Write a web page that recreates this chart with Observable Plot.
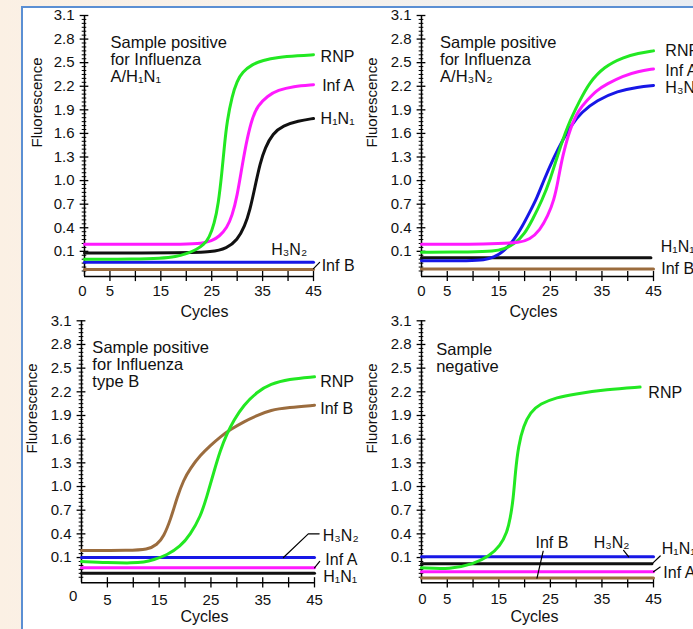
<!DOCTYPE html>
<html><head><meta charset="utf-8">
<script src="https://cdn.jsdelivr.net/npm/d3@7"></script>
<script src="https://cdn.jsdelivr.net/npm/@observablehq/plot@0.6"></script>
<style>
html,body{margin:0;padding:0;background:#fff;}
#root{position:relative;width:693px;height:629px;overflow:hidden;background:linear-gradient(to right,#fbf0e4 0%,#f7f2ec 45%,#e9edf2 100%);font-family:"Liberation Sans",Arial,sans-serif;}
#frame{position:absolute;left:21px;top:6px;width:720px;height:660px;background:#fff;border-left:2px solid #5b8fd3;border-top:2px solid #5b8fd3;}
</style></head><body><div id="root"><div id="frame"></div></div>
<script>
// ---------- axis values ----------
const xDomain = [0, 45];
const yDomain = [-0.22, 3.1];
const yTicks = [0.1, 0.4, 0.7, 1.0, 1.3, 1.6, 1.9, 2.2, 2.5, 2.8, 3.1];
const xTickLabels = [5, 15, 25, 35, 45];
const xTickMarks = [5, 10, 15, 20, 25, 30, 35, 40, 45];

// ---------- Panel 1: Influenza A/H1N1 ----------
const p1_RNP  = [[0,0.0],[10,0.0],[15,0.01],[18,0.03],[20,0.07],[22,0.12],[23.5,0.19],[24.5,0.27],[25.5,0.45],[26.3,0.7],[27,1.1],[27.5,1.45],[28,1.75],[29,2.08],[30,2.27],[31,2.38],[33,2.48],[35,2.53],[38,2.57],[42,2.59],[45,2.6]];
const p1_InfA = [[0,0.19],[10,0.19],[20,0.19],[23,0.2],[25,0.23],[26.5,0.29],[28,0.4],[29,0.55],[30,0.8],[31,1.2],[32,1.55],[33,1.8],[34,1.95],[36,2.08],[38,2.15],[41,2.2],[45,2.22]];
const p1_H1N1 = [[0,0.08],[20,0.08],[25,0.09],[28,0.14],[30,0.24],[31.5,0.42],[32.5,0.62],[33.5,0.92],[34.5,1.22],[35.5,1.42],[37,1.6],[39,1.7],[42,1.76],[45,1.79]];
const p1_H3N2 = [[0,-0.04],[45,-0.04]];
const p1_InfB = [[0,-0.13],[45,-0.13]];

// ---------- Panel 2: Influenza A/H3N2 ----------
const p2_RNP  = [[0,0.09],[10,0.09],[14,0.1],[16,0.13],[18,0.19],[20,0.32],[21.5,0.5],[23.4,0.75],[25,1.02],[26.3,1.3],[28.3,1.7],[30.8,2.03],[32.5,2.24],[35.4,2.45],[39.2,2.57],[42,2.62],[45,2.65]];
const p2_InfA = [[0,0.19],[10,0.19],[15,0.2],[19,0.21],[21,0.25],[23,0.37],[24.5,0.55],[25.7,0.75],[26.5,1.0],[27.3,1.3],[28.9,1.68],[30.5,1.9],[32.1,2.02],[34,2.15],[36,2.23],[39,2.33],[42,2.39],[45,2.42]];
const p2_H3N2 = [[0,-0.02],[10,-0.02],[12,-0.01],[14,0.02],[16,0.1],[18,0.25],[19.5,0.41],[21,0.6],[22.4,0.78],[23.7,1.0],[25.7,1.3],[27.5,1.53],[29,1.7],[31,1.87],[34,2.02],[38,2.14],[42,2.19],[45,2.21]];
const p2_H1N1 = [[0,0.02],[44.5,0.02]];
const p2_InfB = [[0,-0.125],[45,-0.125]];

// ---------- Panel 3: Influenza type B ----------
const p3_RNP  = [[0,0.05],[5,0.035],[10,0.03],[12,0.04],[13.9,0.07],[16.5,0.13],[19.1,0.24],[21,0.39],[23,0.62],[24.2,0.87],[25.5,1.17],[26.8,1.46],[28.1,1.67],[29.4,1.84],[31.3,2.03],[33.9,2.2],[36.5,2.3],[40,2.36],[45,2.39]];
const p3_InfB = [[0,0.19],[9.5,0.19],[12.7,0.2],[14.6,0.26],[15.9,0.37],[17.2,0.58],[18.5,0.87],[19.7,1.08],[21,1.23],[23,1.4],[24.9,1.52],[26.8,1.63],[28.7,1.72],[31.3,1.82],[33.9,1.9],[36.5,1.97],[40,2.0],[45,2.03]];
const p3_H3N2 = [[0,0.1],[45,0.1]];
const p3_InfA = [[0,-0.03],[45,-0.03]];
const p3_H1N1 = [[0,-0.1],[45,-0.1]];

// ---------- Panel 4: negative ----------
const p4_RNP  = [[0,-0.03],[5.6,-0.05],[10.1,0.02],[13,0.11],[15.3,0.25],[16.6,0.42],[17.2,0.59],[17.8,0.84],[18.2,1.18],[18.8,1.52],[19.8,1.77],[21.1,1.94],[23,2.05],[26.3,2.13],[29.5,2.17],[36,2.23],[42.4,2.26]];
const p4_H3N2 = [[0,0.11],[45,0.11]];
const p4_H1N1 = [[0,0.02],[44.7,0.02]];
const p4_InfA = [[0,-0.08],[45,-0.08]];
const p4_InfB = [[0,-0.16],[45,-0.16]];

// ---------- annotation text ----------
const titles = ["Sample positive\nfor Influenza\nA/H\u2081N\u2081", "Sample positive\nfor Influenza\nA/H\u2083N\u2082", "Sample positive\nfor Influenza\ntype B", "Sample\nnegative"];
const p1_labels = [{t:"RNP",x:46.4,y:2.58},{t:"Inf A",x:46.7,y:2.21},{t:"H\u2081N\u2081",x:46.4,y:1.78},{t:"H\u2083N\u2082",x:36.7,y:0.12},{t:"Inf B",x:46.6,y:-0.08}];
const p2_labels = [{t:"RNP",x:47.3,y:2.65},{t:"Inf A",x:47.3,y:2.4},{t:"H\u2083N\u2082",x:47.3,y:2.18},{t:"H\u2081N\u2081",x:46.4,y:0.16},{t:"Inf B",x:46.5,y:-0.12}];
const p3_labels = [{t:"RNP",x:46.1,y:2.33},{t:"Inf B",x:46.1,y:1.99},{t:"H\u2083N\u2082",x:46.6,y:0.37},{t:"Inf A",x:47.1,y:0.07},{t:"H\u2081N\u2081",x:46.7,y:-0.15}];
const p4_labels = [{t:"RNP",x:44.0,y:2.19},{t:"Inf B",x:22.1,y:0.29},{t:"H\u2083N\u2082",x:33.4,y:0.29},{t:"H\u2081N\u2081",x:46.6,y:0.21},{t:"Inf A",x:46.9,y:-0.09}];
const p1_leaders = [[[45,-0.12],[46.2,-0.04]]];
const p2_leaders = [];
const p3_leaders = [[[39,0.1],[43.8,0.4],[45.9,0.4]], [[45,-0.03],[46,0.05]]];
const p4_leaders = [[[22.4,-0.16],[23.6,0.18]], [[39.2,0.19],[40.2,0.11]], [[44.7,0.02],[46.3,0.12]], [[45,-0.08],[46.3,-0.02]]];

// ---------- styles ----------
const FONT = '"Liberation Sans", Arial, Helvetica, sans-serif';
const COLORS = {RNP:"#22e822", InfA:"#ff1aff", H1N1:"#111111", H3N2:"#1717e6", InfB:"#9b6c3e"};

const panels = [
  {left:0, top:0, width:362, height:330, mt:15, mb:54, ml:84, mr:49,
   title:titles[0], tx:5.1, ty:2.84, labels:p1_labels, leaders:p1_leaders,
   series:[["InfB",p1_InfB],["H3N2",p1_H3N2],["H1N1",p1_H1N1],["InfA",p1_InfA],["RNP",p1_RNP]],
   xPad:9, zeroDx:-2, zeroDy:9, cDx:5.5, cDy:40, fDx:-47.5, fDy:1.5},
  {left:340, top:0, width:360, height:330, mt:15, mb:54, ml:81, mr:47,
   title:titles[1], tx:3.6, ty:2.84, labels:p2_labels, leaders:p2_leaders,
   series:[["InfB",p2_InfB],["H1N1",p2_H1N1],["H3N2",p2_H3N2],["RNP",p2_RNP],["InfA",p2_InfA]],
   xPad:9, zeroDx:0, zeroDy:9, cDx:-4, cDy:40, fDx:-49.5, fDy:1.5},
  {left:0, top:305, width:362, height:324, mt:15.3, mb:46.7, ml:81, mr:48,
   title:titles[2], tx:2.1, ty:2.85, labels:p3_labels, leaders:p3_leaders,
   series:[["H1N1",p3_H1N1],["InfA",p3_InfA],["H3N2",p3_H3N2],["InfB",p3_InfB],["RNP",p3_RNP]],
   xPad:12, zeroDx:-8.3, zeroDy:7.7, cDx:6.5, cDy:39, fDx:-49.3, fDy:1.7},
  {left:340, top:305, width:360, height:324, mt:15.3, mb:46.7, ml:81, mr:47,
   title:titles[3], tx:2.85, ty:2.82, labels:p4_labels, leaders:p4_leaders,
   series:[["InfB",p4_InfB],["InfA",p4_InfA],["H1N1",p4_H1N1],["H3N2",p4_H3N2],["RNP",p4_RNP]],
   xPad:11, zeroDx:1, zeroDy:11, cDx:-3, cDy:39, fDx:-49.5, fDy:1.7}
];

const majorSet = new Set(yTicks.map(v => v.toFixed(2)));
const yMinor = d3.range(-0.15, 3.1, 0.05).filter(v => !majorSet.has(v.toFixed(2)));

const root = document.getElementById("root");
for (const p of panels) {
  const marks = [
    Plot.ruleX([xDomain[0]], {y1: yDomain[0], y2: yDomain[1], stroke: "#000", strokeWidth: 1.5}),
    Plot.ruleY([yDomain[0]], {x1: xDomain[0], x2: xDomain[1], stroke: "#000", strokeWidth: 1.5}),
    Plot.ruleY(yTicks, {x1: -0.85, x2: 0.85, stroke: "#000", strokeWidth: 1.3}),
    Plot.ruleY(yMinor, {x1: -0.45, x2: 0.45, stroke: "#000", strokeWidth: 1}),
    Plot.ruleX(xTickMarks, {y1: yDomain[0] - 0.065, y2: yDomain[0] + 0.065, stroke: "#000", strokeWidth: 1.3}),
    Plot.text(["0"], {x: xDomain[0], frameAnchor: "bottom", lineAnchor: "top", dy: p.zeroDy, dx: p.zeroDx, text: d => d, fontSize: 15, fill: "#111"}),
    ...p.series.map(([k, pts]) => Plot.line(pts, {x: d => d[0], y: d => d[1], stroke: COLORS[k], strokeWidth: 3, curve: "basis"})),
    ...p.leaders.map(pts => Plot.line(pts, {x: d => d[0], y: d => d[1], stroke: "#000", strokeWidth: 1.2})),
    Plot.text(p.labels, {x: "x", y: "y", text: "t", textAnchor: "start", fontSize: 16, fill: "#111"}),
    Plot.text([p.title], {x: p.tx, y: p.ty, text: d => d, textAnchor: "start", lineAnchor: "top", lineHeight: 1.03, fontSize: 16.5, fill: "#111"}),
    Plot.text(["Cycles"], {frameAnchor: "bottom", dx: p.cDx, dy: p.cDy, text: d => d, fontSize: 16, fill: "#111"}),
    Plot.text(["Fluorescence"], {frameAnchor: "left", rotate: -90, dx: p.fDx, dy: p.fDy, text: d => d, fontSize: 15, fill: "#111"})
  ];
  const svg = Plot.plot({
    width: p.width, height: p.height,
    marginTop: p.mt, marginBottom: p.mb, marginLeft: p.ml, marginRight: p.mr,
    style: {background: "transparent", fontFamily: FONT, fontSize: "15px", color: "#111", overflow: "visible"},
    x: {domain: xDomain, ticks: xTickLabels, tickSize: 0, tickPadding: p.xPad, label: null},
    y: {domain: yDomain, ticks: yTicks, tickSize: 0, tickPadding: 10, tickFormat: d3.format(".1f"), label: null},
    marks
  });
  svg.style.position = "absolute";
  svg.style.left = p.left + "px";
  svg.style.top = p.top + "px";
  svg.style.maxWidth = "none";
  root.appendChild(svg);
}
</script></body></html>
